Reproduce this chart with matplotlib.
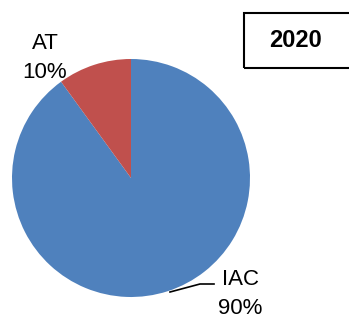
import matplotlib
matplotlib.use("Agg")
import matplotlib.pyplot as plt

labels = ["IAC", "AT"]
shares = [90, 10]
colors = ["#4F81BD", "#C0504D"]
year = "2020"

W, H = 349, 322
fig = plt.figure(figsize=(W / 100, H / 100), dpi=100)
ax = fig.add_axes([0, 0, 1, 1])

ax.pie(shares, colors=colors, startangle=90, counterclock=False,
       center=(131, H - 178), radius=119, frame=True)
ax.set_xlim(0, W)
ax.set_ylim(0, H)
ax.set_aspect("equal")
ax.axis("off")

font = ["Liberation Sans", "DejaVu Sans"]
ax.text(45, H - 58, f"{labels[1]}\n{shares[1]}%", ha="center", va="center",
        fontsize=16, family=font, linespacing=1.55)
ax.text(240, H - 294, f"{labels[0]}\n{shares[0]}%", ha="center", va="center",
        fontsize=16, family=font, linespacing=1.5)
ax.plot([170, 200, 214], [H - 292, H - 284, H - 284], color="black", lw=1.2)

# year box
ax.add_patch(plt.Rectangle((244, H - 68), 110, 55, fill=False,
                           edgecolor="black", lw=1.5, clip_on=False))
ax.text(296, H - 40, year, ha="center", va="center", fontsize=17,
        fontweight="bold", family=font)

fig.savefig("out.png", dpi=100)
